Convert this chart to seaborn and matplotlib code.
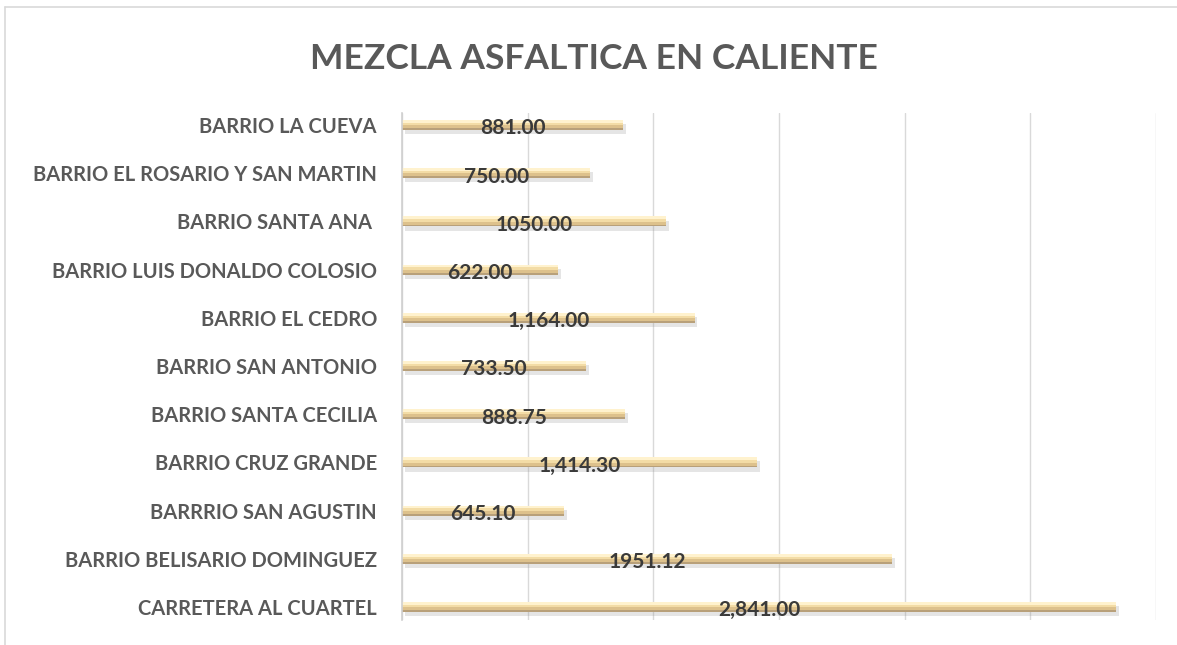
import matplotlib
matplotlib.use('Agg')
import matplotlib.pyplot as plt
import matplotlib.patheffects as pe
from matplotlib.lines import Line2D
import seaborn as sns
import pandas as pd

# Datos del grafico
barrios = ['BARRIO LA CUEVA',
           'BARRIO EL ROSARIO Y SAN MARTIN',
           'BARRIO SANTA ANA ',
           'BARRIO LUIS DONALDO COLOSIO',
           'BARRIO EL CEDRO',
           'BARRIO SAN ANTONIO',
           'BARRIO SANTA CECILIA',
           'BARRIO CRUZ GRANDE',
           'BARRRIO SAN AGUSTIN',
           'BARRIO BELISARIO DOMINGUEZ',
           'CARRETERA AL CUARTEL']
cantidades = [881.00, 750.00, 1050.00, 622.00, 1164.00, 733.50, 888.75, 1414.30, 645.10, 1951.12, 2841.00]
etiquetas = ['881.00', '750.00', '1050.00', '622.00', '1,164.00', '733.50', '888.75',
             '1,414.30', '645.10', '1951.12', '2,841.00']

df = pd.DataFrame({'barrio': barrios, 'cantidad': cantidades})

sns.set_theme(style='white')
plt.rcParams['font.family'] = ['Lato', 'DejaVu Sans']

fig = plt.figure(figsize=(11.77, 6.45), dpi=100)
ax = fig.add_axes([0.3415, 0.0388, 0.6407, 0.786])

# barra con efecto dorado: base oscura y capas mas claras alineadas arriba
capas = [(0.21, '#B8A07A'), (0.17, '#DDC18C'), (0.11, '#F3DCA6'), (0.06, '#FFF2CE')]
grupos = []
for w, c in capas:
    antes = len(ax.patches)
    sns.barplot(data=df, x='cantidad', y='barrio', orient='h', color=c,
                width=w, saturation=1, linewidth=0, ax=ax)
    grupos.append((w, ax.patches[antes:]))

for w, parches in grupos:
    for p in parches:
        p.set_y(p.get_y() - (0.21 - w) / 2)
for p in grupos[0][1]:
    p.set_path_effects([pe.SimplePatchShadow(offset=(2, -3), shadow_rgbFace='#8C8C8C', alpha=0.22),
                        pe.Normal()])

# etiquetas de datos
for i, (v, t) in enumerate(zip(cantidades, etiquetas)):
    ax.text(v / 2, i + 0.07, t, ha='center', va='center', fontsize=15,
            fontweight='bold', color='#3A3A3A')

ax.set_xlim(0, 3000)
ax.set_ylim(10.27, -0.25)
ax.set_xticks(range(0, 3001, 500))
ax.set_xticklabels([])
ax.xaxis.grid(True, color='#D9D9D9', linewidth=1)
ax.yaxis.grid(False)
ax.tick_params(axis='both', length=0)
ax.tick_params(axis='y', pad=18)
for lbl in ax.get_yticklabels():
    lbl.set_fontsize(14.5)
    lbl.set_fontweight('bold')
    lbl.set_color('#595959')
ax.set_xlabel('')
ax.set_ylabel('')
for s in ['top', 'right', 'bottom']:
    ax.spines[s].set_visible(False)
ax.spines['left'].set_color('#D0D0D0')
ax.spines['left'].set_linewidth(1.2)

fig.text(0.505, 0.909, 'MEZCLA ASFALTICA EN CALIENTE', ha='center', va='center',
         fontsize=25.5, fontweight='bold', color='#595959')

# marco del area del grafico
fig.add_artist(Line2D([0.0045, 0.0045], [0.0, 0.989], color='#D9D9D9', linewidth=1.2))
fig.add_artist(Line2D([0.0045, 1.0], [0.989, 0.989], color='#D9D9D9', linewidth=1.2))

fig.savefig('out.png', dpi=100, facecolor='white')
